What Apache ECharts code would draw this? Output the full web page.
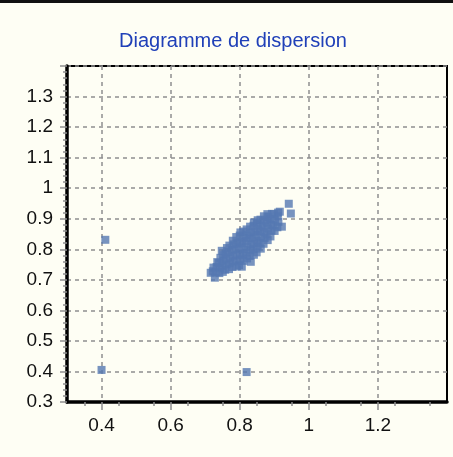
<!DOCTYPE html>
<html><head><meta charset="utf-8">
<script src="https://cdn.jsdelivr.net/npm/echarts@6/dist/echarts.min.js"></script>
<style>html,body{margin:0;padding:0;background:#FEFEF4;}#c{width:453px;height:457px;}</style>
</head><body><div id="c"></div>
<script>
var titleText = 'Diagramme de dispersion';
var xTickLabels = [0.4, 0.6, 0.8, 1, 1.2];
var yTickLabels = [0.3, 0.4, 0.5, 0.6, 0.7, 0.8, 0.9, 1, 1.1, 1.2, 1.3];
var outlierPoints = [[0.40,0.405],[0.411,0.831],[0.82,0.398]];
var clusterPoints = [
[0.716,0.723],[0.722,0.728],[0.724,0.740],
[0.728,0.707],[0.731,0.725],[0.733,0.742],[0.735,0.758],
[0.741,0.722],[0.743,0.738],[0.739,0.755],[0.744,0.772],
[0.751,0.726],[0.749,0.745],[0.753,0.762],[0.752,0.781],[0.748,0.795],
[0.758,0.733],[0.762,0.750],[0.761,0.768],[0.759,0.786],[0.763,0.804],
[0.769,0.735],[0.771,0.754],[0.772,0.773],[0.768,0.791],[0.770,0.812],
[0.779,0.742],[0.782,0.760],[0.781,0.779],[0.778,0.798],[0.783,0.816],[0.780,0.828],
[0.791,0.744],[0.788,0.763],[0.792,0.782],[0.789,0.801],[0.793,0.820],[0.790,0.840],
[0.798,0.748],[0.802,0.767],[0.801,0.786],[0.799,0.806],[0.803,0.825],[0.800,0.845],[0.802,0.855],
[0.806,0.743],[0.811,0.762],[0.809,0.781],[0.812,0.800],[0.808,0.819],[0.813,0.838],[0.810,0.858],
[0.821,0.770],[0.818,0.789],[0.822,0.808],[0.819,0.827],[0.823,0.846],[0.820,0.865],
[0.832,0.759],[0.829,0.778],[0.831,0.797],[0.833,0.816],[0.828,0.835],[0.832,0.855],[0.830,0.874],
[0.841,0.782],[0.839,0.801],[0.842,0.820],[0.838,0.839],[0.843,0.858],[0.840,0.877],[0.841,0.888],
[0.849,0.790],[0.852,0.809],[0.851,0.828],[0.848,0.847],[0.853,0.866],[0.850,0.885],[0.852,0.895],
[0.861,0.802],[0.858,0.821],[0.862,0.840],[0.859,0.859],[0.863,0.878],[0.860,0.897],
[0.869,0.818],[0.872,0.837],[0.871,0.856],[0.868,0.875],[0.873,0.894],[0.870,0.908],
[0.881,0.830],[0.878,0.849],[0.882,0.868],[0.879,0.887],[0.883,0.906],[0.880,0.915],
[0.889,0.842],[0.892,0.861],[0.891,0.880],[0.888,0.899],[0.893,0.916],
[0.901,0.860],[0.898,0.878],[0.902,0.897],[0.899,0.915],
[0.909,0.872],[0.912,0.890],[0.910,0.908],[0.911,0.920],
[0.916,0.923],[0.922,0.874],[0.942,0.949],[0.948,0.917]
];

var gridColor = '#8f8f8f';
var chart = echarts.init(document.getElementById('c'), null, {renderer:'canvas'});
chart.setOption({
  backgroundColor: '#FEFEF4',
  animation: false,
  title: {
    text: titleText, left: 114, top: 26,
    textStyle: {color:'#2040B8', fontSize:20, fontWeight:'normal', fontFamily:'Liberation Sans, Arial, sans-serif'}
  },
  graphic: [
    {type:'rect', shape:{x:0, y:0, width:453, height:3}, style:{fill:'#111'}}
  ],
  grid: {left:67, right:6, top:66, bottom:55, show:true, borderColor:'#000', borderWidth:2, backgroundColor:'transparent'},
  xAxis: {
    type:'value', min:0.3, max:1.4, interval:0.1,
    axisLine:{show:true, onZero:false, lineStyle:{color:'#000', width:3.5}},
    axisTick:{show:true, customValues:xTickLabels, length:8, lineStyle:{color:gridColor, width:1.5}},
    minorTick:{show:true, splitNumber:2, length:4, lineStyle:{color:gridColor, width:1.5}},
    axisLabel:{customValues:xTickLabels, margin:14, color:'#111', fontSize:19, fontFamily:'Liberation Sans, Arial, sans-serif'},
    splitLine:{show:true, lineStyle:{color:gridColor, width:1.5, type:[4,4]}}
  },
  yAxis: {
    type:'value', min:0.3, max:1.4, interval:0.1,
    axisLine:{show:true, onZero:false, lineStyle:{color:'#000', width:3.5}},
    axisTick:{show:true, length:7, lineStyle:{color:gridColor, width:1.5}},
    minorTick:{show:true, splitNumber:5, length:4, lineStyle:{color:gridColor, width:1.5}},
    axisLabel:{customValues:yTickLabels, margin:14, color:'#111', fontSize:19, fontFamily:'Liberation Sans, Arial, sans-serif'},
    splitLine:{show:true, lineStyle:{color:gridColor, width:1.5, type:[4,4]}}
  },
  series: [{
    type:'scatter', symbol:'rect', symbolSize:8,
    itemStyle:{color:'#5578B2'},
    data: clusterPoints.concat(outlierPoints)
  }]
});
</script></body></html>
